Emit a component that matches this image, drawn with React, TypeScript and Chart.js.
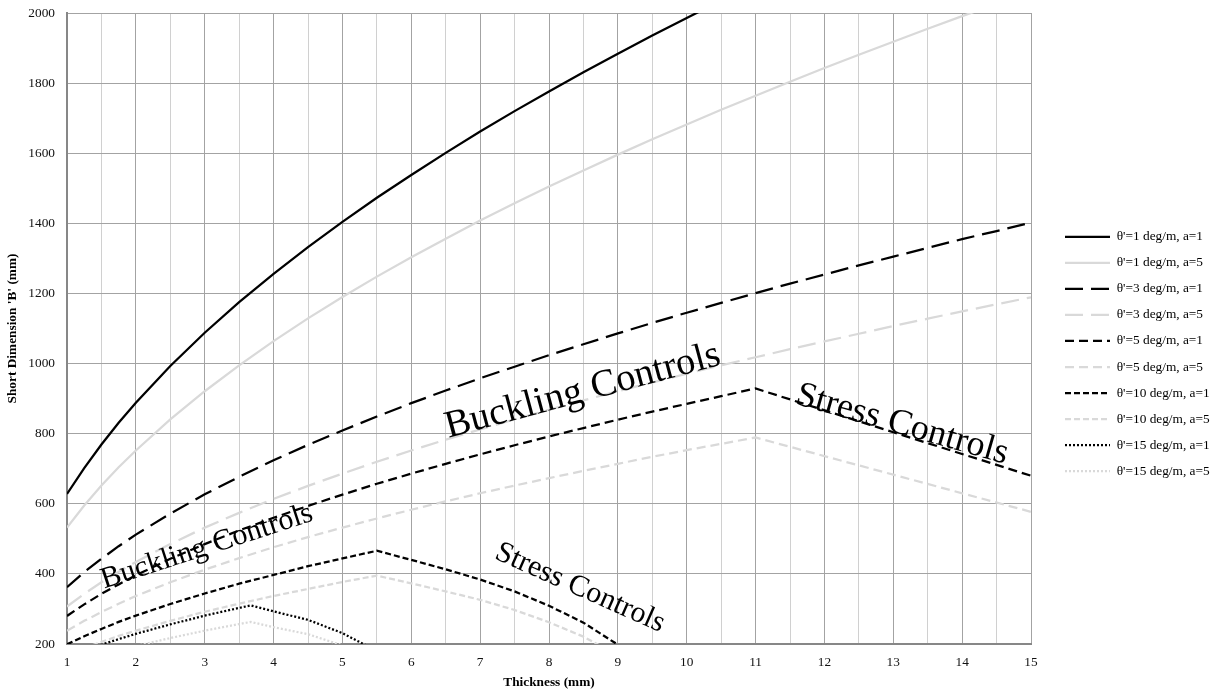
import React, { useEffect, useRef } from 'react';
import { Chart, registerables } from 'chart.js';

Chart.register(...registerables);

// ---------- data ----------
const seriesLabels = [
  "θ'=1 deg/m, a=1",
  "θ'=1 deg/m, a=5",
  "θ'=3 deg/m, a=1",
  "θ'=3 deg/m, a=5",
  "θ'=5 deg/m, a=1",
  "θ'=5 deg/m, a=5",
  "θ'=10 deg/m, a=1",
  "θ'=10 deg/m, a=5",
  "θ'=15 deg/m, a=1",
  "θ'=15 deg/m, a=5",
];

const thicknessFull = [1, 1.25, 1.5, 1.75, 2, 2.5, 3, 3.5, 4, 4.5, 5, 5.5, 6, 6.5, 7, 7.5, 8, 8.5, 9, 9.5, 10, 10.5, 11, 11.5, 12, 12.5, 13, 13.5, 14, 14.5, 15];
const thicknessTheta5 = [1, 1.25, 1.5, 1.75, 2, 2.5, 3, 3.5, 4, 4.5, 5, 5.5, 6, 6.5, 7, 7.5, 8, 8.5, 9, 9.5, 10, 10.5, 11, 13, 15];
const thicknessTheta10 = [1, 1.25, 1.5, 1.75, 2, 2.5, 3, 3.5, 4, 4.5, 5, 5.5, 6, 6.5, 7, 7.5, 8, 8.5, 9];
const thicknessTheta15 = [1, 1.25, 1.5, 1.75, 2, 2.5, 3, 3.5, 3.67, 4, 4.5, 5, 5.5];

const theta1A1 = [628, 702, 769, 831, 888, 993, 1088, 1175, 1256, 1332, 1404, 1473, 1538, 1601, 1662, 1720, 1776, 1831, 1884, 1936, 1986, 2035];
const theta1A5 = [532, 595, 652, 704, 752, 841, 921, 995, 1064, 1129, 1190, 1248, 1303, 1356, 1408, 1457, 1505, 1551, 1596, 1640, 1682, 1724, 1764, 1804, 1843, 1881, 1918, 1955, 1991, 2026];
const theta3A1 = [362, 405, 443, 479, 512, 572, 627, 677, 724, 768, 809, 849, 887, 923, 958, 991, 1024, 1055, 1086, 1116, 1145, 1173, 1201, 1228, 1254, 1280, 1305, 1330, 1355, 1378, 1402];
const theta3A5 = [307, 343, 376, 406, 434, 485, 532, 574, 614, 651, 686, 720, 752, 783, 812, 841, 868, 895, 921, 946, 971, 995, 1018, 1041, 1063, 1085, 1107, 1128, 1149, 1169, 1189];
const theta5A1 = [280, 313, 343, 370, 396, 443, 485, 524, 560, 594, 626, 657, 686, 714, 741, 767, 792, 816, 840, 863, 885, 907, 929, 804, 680];
const theta5A5 = [238, 266, 291, 315, 337, 376, 412, 445, 476, 505, 532, 558, 583, 607, 630, 652, 673, 694, 714, 734, 753, 771, 789, 683, 577];
const theta10A1 = [199, 222, 243, 263, 281, 314, 344, 372, 397, 422, 444, 466, 440, 413, 384, 350, 309, 261, 198];
const theta10A5 = [168, 188, 206, 223, 238, 266, 292, 315, 337, 357, 377, 395, 373, 350, 326, 297, 262, 221, 168];
const theta15A1 = [162, 181, 198, 214, 229, 256, 281, 303, 310, 293, 269, 231, 180];
const theta15A5 = [137, 153, 168, 182, 194, 217, 238, 257, 263, 248, 228, 196, 153];

const yTicks = [200, 400, 600, 800, 1000, 1200, 1400, 1600, 1800, 2000];
const xTickLabels = [1, 2, 3, 4, 5, 6, 7, 8, 9, 10, 11, 12, 13, 14, 15];

const annotationTexts = ['Buckling Controls', 'Stress Controls', 'Buckling Controls', 'Stress Controls'];
const annotationThickness = [8.49, 13.13, 3.03, 8.45];
const annotationB = [921, 826, 477, 360];

// ---------- styles ----------
const annotationAngle = [-15, 16, -18, 24];
const annotationSize = [38.5, 36, 30, 30];
const BLACK = '#000000';
const LIGHT = '#d9d9d9';
const seriesColors = [BLACK, LIGHT, BLACK, LIGHT, BLACK, LIGHT, BLACK, LIGHT, BLACK, LIGHT];
const seriesDash = [[], [], [18, 8], [18, 8], [9, 5], [9, 5], [6, 3], [6, 3], [2, 2], [2, 2]];
const LINE_W = 2.25;
const FONT = '"Liberation Serif", "Times New Roman", serif';
const FS = 13.33;
const MAJOR_GRID = '#a3a3a3';
const MINOR_GRID = '#d0d0d0';
const AXIS_COLOR = '#878787';

const zip = (xs: number[], ys: number[]) => ys.map((y, i) => ({ x: xs[i], y }));

const seriesData = [
  zip(thicknessFull, theta1A1),
  zip(thicknessFull, theta1A5),
  zip(thicknessFull, theta3A1),
  zip(thicknessFull, theta3A5),
  zip(thicknessTheta5, theta5A1),
  zip(thicknessTheta5, theta5A5),
  zip(thicknessTheta10, theta10A1),
  zip(thicknessTheta10, theta10A5),
  zip(thicknessTheta15, theta15A1),
  zip(thicknessTheta15, theta15A5),
];

const annotationPlugin = {
  id: 'controlsAnnotations',
  afterDatasetsDraw(chart: any) {
    const { ctx, scales } = chart;
    annotationTexts.forEach((txt, i) => {
      const px = scales.x.getPixelForValue(annotationThickness[i]);
      const py = scales.y.getPixelForValue(annotationB[i]);
      ctx.save();
      ctx.translate(px, py);
      ctx.rotate((annotationAngle[i] * Math.PI) / 180);
      ctx.font = `${annotationSize[i]}px ${FONT}`;
      ctx.fillStyle = '#000';
      ctx.textAlign = 'center';
      ctx.textBaseline = 'middle';
      ctx.fillText(txt, 0, 0);
      ctx.restore();
    });
  },
};

const legendPlacer = {
  id: 'legendPlacer',
  beforeDraw(chart: any) {
    const lg = chart.legend;
    if (!lg) return;
    const ca = chart.chartArea;
    lg.left = ca.right + 21.3;
    lg.right = lg.left + lg.width;
    lg.top = 6.5;
    lg.bottom = chart.height + 6.5;
    lg.height = chart.height;
  },
};

export default function App() {
  const ref = useRef<HTMLCanvasElement | null>(null);

  useEffect(() => {
    document.body.style.margin = '0';
    const canvas = ref.current;
    if (!canvas) return;
    const chart = new Chart(canvas, {
      type: 'line',
      data: {
        datasets: seriesLabels.map((label, i) => ({
          label,
          data: seriesData[i],
          borderColor: seriesColors[i],
          backgroundColor: seriesColors[i],
          borderDash: seriesDash[i],
          borderWidth: LINE_W,
          borderCapStyle: 'butt',
          pointRadius: 0,
          pointHoverRadius: 0,
          tension: 0,
          fill: false,
        })),
      },
      options: {
        responsive: false,
        animation: false,
        devicePixelRatio: 1,
        layout: { padding: { top: 13, right: 192, bottom: 0, left: 0 } },
        plugins: {
          tooltip: { enabled: false },
          legend: {
            position: 'chartArea',
            labels: {
              usePointStyle: true,
              pointStyle: 'line',
              pointStyleWidth: 45,
              padding: 12.7,
              color: '#000',
              font: { family: FONT, size: FS },
              generateLabels: (chart: any) =>
                chart.data.datasets.map((ds: any, i: number) => ({
                  text: ds.label,
                  datasetIndex: i,
                  hidden: false,
                  pointStyle: 'line',
                  strokeStyle: ds.borderColor,
                  fillStyle: ds.borderColor,
                  lineWidth: LINE_W,
                  lineDash: ds.borderDash,
                  lineCap: 'butt',
                  fontColor: '#000',
                })),
            },
          },
        },
        scales: {
          x: {
            type: 'linear',
            min: 1,
            max: 15,
            afterBuildTicks: (s: any) => {
              const ticks: any[] = [];
              xTickLabels.forEach((v, i) => {
                ticks.push({ value: v });
                if (i < xTickLabels.length - 1) ticks.push({ value: v + 0.5 });
              });
              s.ticks = ticks;
            },
            ticks: {
              autoSkip: false,
              maxRotation: 0,
              padding: 10,
              color: '#111',
              font: { family: FONT, size: FS },
              callback: (v: any) => (Number.isInteger(v) ? String(v) : ''),
            },
            grid: {
              drawTicks: false,
              lineWidth: 1,
              color: (c: any) => (c.tick && Number.isInteger(c.tick.value) ? MAJOR_GRID : MINOR_GRID),
            },
            border: { color: AXIS_COLOR, width: 2 },
            title: {
              display: true,
              text: 'Thickness (mm)',
              color: '#000',
              font: { family: FONT, size: FS, weight: 'bold' },
              padding: { top: 0, bottom: 4 },
            },
            afterFit: (s: any) => {
              s.height = 51;
            },
          },
          y: {
            type: 'linear',
            min: yTicks[0],
            max: yTicks[yTicks.length - 1],
            afterBuildTicks: (s: any) => {
              s.ticks = yTicks.map((v) => ({ value: v }));
            },
            ticks: {
              padding: 12,
              color: '#111',
              font: { family: FONT, size: FS },
              callback: (v: any) => String(v),
            },
            grid: { drawTicks: false, lineWidth: 1, color: MAJOR_GRID },
            border: { color: AXIS_COLOR, width: 2 },
            title: {
              display: true,
              text: "Short Dimension 'B' (mm)",
              color: '#000',
              font: { family: FONT, size: FS, weight: 'bold' },
              padding: { top: 5, bottom: 0 },
            },
            afterFit: (s: any) => {
              s.width = 67;
              s.paddingTop = 0;
              s.paddingBottom = 0;
            },
          },
        },
      },
      plugins: [annotationPlugin, legendPlacer],
    } as any);
    return () => chart.destroy();
  }, []);

  return (
    <div style={{ width: 1223, height: 695, background: '#fff' }}>
      <canvas ref={ref} width={1223} height={695} style={{ display: 'block' }} />
    </div>
  );
}
